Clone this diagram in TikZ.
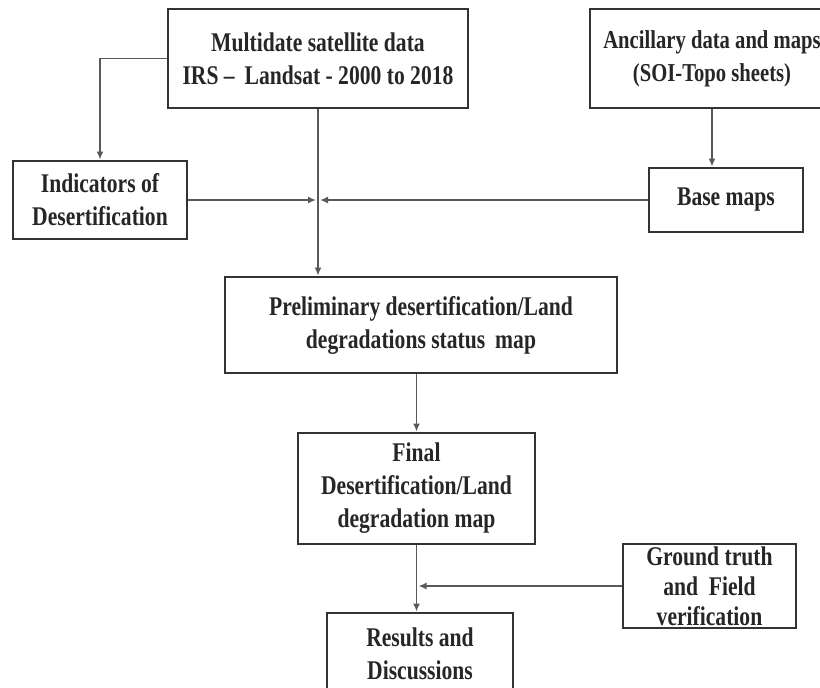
\documentclass[tikz,border=0pt]{standalone}
\usepackage{fontspec}
\setmainfont{Liberation Serif}[FakeStretch=0.8]
\usepackage{tikz}
\usetikzlibrary{arrows.meta,calc}

\begin{document}
\begin{tikzpicture}[x=0.5pt,y=-0.5pt,
  box/.style={draw=black!80,line width=1.4pt,inner sep=0pt,align=center,
    font=\fontsize{13.5}{16.5}\selectfont\bfseries,text=black!85},
  link/.style={draw=black!65,line width=0.9pt},
  tip/.style={link,-{Latex[length=4pt,width=3.5pt]}}]
\clip (0,0) rectangle (820,687);
\node[box,minimum width=150pt,minimum height=49.5pt] (multi) at (318,58.5)
  {Multidate satellite data\\IRS --\, Landsat - 2000 to 2018};
\node[box,minimum width=122pt,minimum height=49.5pt,
  font=\fontsize{12.9}{16.5}\selectfont\bfseries] (ancil) at (712,58.5)
  {Ancillary data and maps\\(SOI-Topo sheets)};
\node[box,minimum width=87pt,minimum height=39pt] (indic) at (100,200)
  {Indicators of\\Desertification};
\node[box,minimum width=77pt,minimum height=32pt] (base) at (726,200)
  {Base maps};
\node[box,minimum width=196pt,minimum height=48pt] (prelim) at (421,325)
  {Preliminary desertification/Land\\degradations status\, map};
\node[box,minimum width=118.5pt,minimum height=55.5pt] (final) at (416.5,488.5)
  {Final\\Desertification/Land\\degradation map};
\node[box,minimum width=86.5pt,minimum height=42pt,
  font=\fontsize{13.5}{15}\selectfont\bfseries] (ground) at (709.5,586)
  {Ground truth\\and\ \ Field\\verification};
\node[box,minimum width=93pt,minimum height=41pt] (results) at (420,654)
  {Results and\\Discussions};
\coordinate (join) at (318,200);
\coordinate (merge) at (final.south |- ground.west);
\draw[tip] (multi.west) -| (indic.north);
\draw[tip] (multi.south) -- (multi.south |- prelim.north);
\draw[tip] (indic.east) -- ($(join)+(-2,0)$);
\draw[tip] (base.west) -- ($(join)+(2,0)$);
\draw[tip] (ancil.south) -- (ancil.south |- base.north);
\draw[tip] (final.north |- prelim.south) -- (final.north);
\draw[tip] (final.south) -- (final.south |- results.north);
\draw[tip] (ground.west) -- ($(merge)+(2,0)$);
\end{tikzpicture}
\end{document}
